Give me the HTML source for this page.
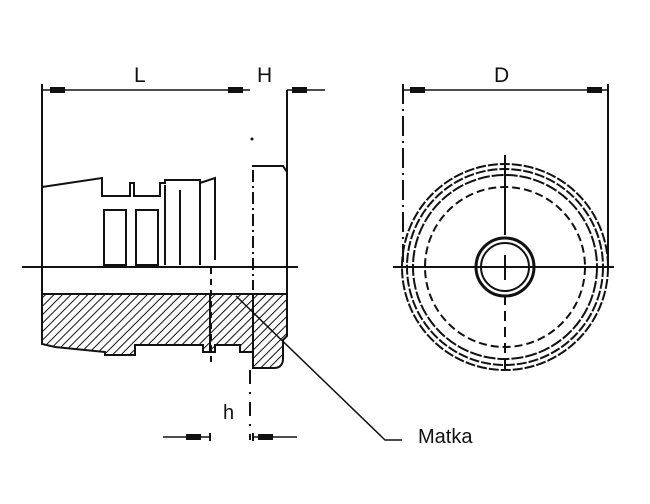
<!DOCTYPE html>
<html><head><meta charset="utf-8"><style>
html,body{margin:0;padding:0;background:#fff;width:650px;height:504px;overflow:hidden}
svg{display:block}
text{font-family:"Liberation Sans",sans-serif;fill:#111}
</style></head><body>
<svg width="650" height="504" viewBox="0 0 650 504" xmlns="http://www.w3.org/2000/svg">
<defs>
<pattern id="h" width="6" height="6" patternUnits="userSpaceOnUse" patternTransform="rotate(45)">
<line x1="0" y1="0" x2="0" y2="6" stroke="#111" stroke-width="2"/>
</pattern>
</defs>
<g stroke="#111" stroke-width="2" fill="none">
<path d="M42 294 H287 V336 L283 340 V360 Q282 368 274 368 H253 V352 H240 V345 H215 V352 H203 V345 H135 V355 H105 V352 L55 347 L42 344 Z" fill="url(#h)"/>
<line x1="210" y1="294" x2="210" y2="352"/>
<line x1="253" y1="294" x2="253" y2="368"/>
<line x1="42" y1="84" x2="42" y2="344"/>
<line x1="287" y1="90" x2="287" y2="336"/>
<path d="M42 187 L102 178 V196 H130 V183 H134 V196 H160 V183 H165 V180 H200 V183 L215 178 V260"/>
<rect x="104" y="210" width="22" height="55"/>
<rect x="136" y="210" width="22" height="55"/>
<path d="M165 185 V265 M200 183 V265 M180 190 V265"/>
<path d="M252 166 H283 L287 172"/>
<line x1="253" y1="170" x2="253" y2="290" stroke-dasharray="12 4 2 4"/>
<line x1="211" y1="268" x2="211" y2="365" stroke-dasharray="6 5"/>
<line x1="22" y1="267" x2="298" y2="267"/>
<line x1="42" y1="90" x2="250" y2="90" stroke-width="1.5"/>
<rect x="50" y="87" width="15" height="6" fill="#111" stroke="none"/>
<rect x="228" y="87" width="15" height="6" fill="#111" stroke="none"/>
<line x1="287" y1="90" x2="325" y2="90" stroke-width="1.5"/>
<rect x="292" y="87" width="15" height="6" fill="#111" stroke="none"/>
<circle cx="252" cy="139" r="1.5" fill="#111" stroke="none"/>
<line x1="163" y1="437" x2="210" y2="437" stroke-width="1.5"/>
<line x1="210" y1="433" x2="210" y2="441"/>
<rect x="186" y="434" width="15" height="6" fill="#111" stroke="none"/>
<line x1="253" y1="437" x2="297" y2="437" stroke-width="1.5"/>
<line x1="253" y1="433" x2="253" y2="441"/>
<rect x="258" y="434" width="15" height="6" fill="#111" stroke="none"/>
<line x1="250" y1="370" x2="250" y2="440" stroke-dasharray="14 8 2 8"/>
<path d="M236 296 L385 440 H402" stroke-width="1.5"/>
<line x1="403" y1="84" x2="403" y2="262" stroke-dasharray="20 5 2 5"/>
<line x1="608" y1="84" x2="608" y2="270"/>
<line x1="403" y1="90" x2="608" y2="90" stroke-width="1.5"/>
<rect x="410" y="87" width="15" height="6" fill="#111" stroke="none"/>
<rect x="587" y="87" width="15" height="6" fill="#111" stroke="none"/>
<circle cx="505" cy="267" r="103" stroke-dasharray="10 2"/>
<circle cx="505" cy="267" r="98" stroke-dasharray="10 2"/>
<circle cx="505" cy="267" r="92" stroke-dasharray="12 2"/>
<circle cx="505" cy="267" r="80" stroke-dasharray="8 4"/>
<circle cx="505" cy="267" r="29" stroke-width="3"/>
<circle cx="505" cy="267" r="24"/>
<line x1="393" y1="267" x2="614" y2="267"/>
<line x1="505" y1="155" x2="505" y2="235"/>
<line x1="505" y1="295" x2="505" y2="375" stroke-dasharray="10 6"/>
<line x1="493" y1="267" x2="517" y2="267"/>
<line x1="505" y1="255" x2="505" y2="280"/>
</g>
<text x="134" y="82" font-size="21">L</text>
<text x="257" y="82" font-size="21">H</text>
<text x="494" y="82" font-size="21">D</text>
<text x="223" y="419" font-size="20">h</text>
<text x="418" y="443" font-size="20">Matka</text>
</svg>
</body></html>
